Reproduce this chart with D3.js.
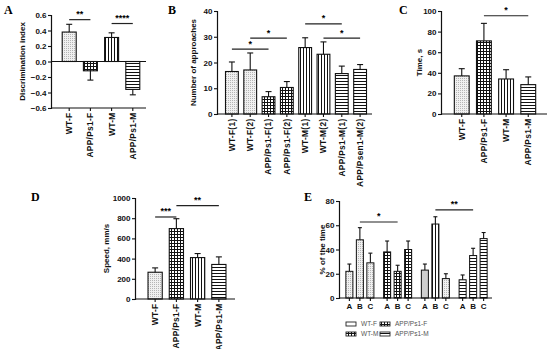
<!DOCTYPE html>
<html>
<head>
<meta charset="utf-8">
<script src="https://cdn.jsdelivr.net/npm/d3@7"></script>
<style>
  body { margin: 0; background: #fff; }
  svg { font-family: "Liberation Sans", Arial, sans-serif; }
  .tick text { font-size: 8px; font-weight: bold; fill: #111; }
  .tick line { stroke: #111; stroke-width: 1.1; }
  .xrot .tick text { font-size: 8.4px; letter-spacing: 0.3px; }
  .ylab { font-size: 8px; font-weight: bold; fill: #111; }
  .letter { font-family: "Liberation Serif", "Times New Roman", serif; font-weight: bold; font-size: 12px; }
  .star { font-size: 9px; font-weight: bold; }
  .legend text { font-size: 6.5px; fill: #555; }
</style>
</head>
<body>
<svg id="fig" width="550" height="349"></svg>
<script>
// ---- data ----
// A: discrimination index
const aCats = ["WT-F", "APP/Ps1-F", "WT-M", "APP/Ps1-M"];
const aMean = [0.38, -0.12, 0.31, -0.36];
const aErr = [0.48, -0.24, 0.37, -0.43];
const aTicks = [-0.6, -0.4, -0.2, 0, 0.2, 0.4, 0.6];
const aSig = [["WT-F", "APP/Ps1-F", 0.54, "**"], ["WT-M", "APP/Ps1-M", 0.49, "****"]];

// B: number of approaches
const bCats = ["WT-F(1)", "WT-F(2)", "APP/Ps1-F(1)", "APP/Ps1-F(2)", "WT-M(1)", "WT-M(2)", "APP/Ps1-M(1)", "APP/Psen1-M(2)"];
const bMean = [16.5, 17.1, 6.7, 10.3, 25.8, 23.2, 15.7, 17.3];
const bErr = [20.2, 23.7, 8.7, 12.6, 29.6, 28.0, 18.6, 19.2];
const bTicks = [0, 10, 20, 30, 40];
const bSig = [["WT-F(1)", "APP/Ps1-F(1)", 25.2, "*"], ["WT-F(2)", "APP/Ps1-F(2)", 29.5, "*"],
              ["WT-M(1)", "APP/Ps1-M(1)", 35, "*"], ["WT-M(2)", "APP/Psen1-M(2)", 29.5, "*"]];

// C: time, s
const cCats = ["WT-F", "APP/Ps1-F", "WT-M", "APP/Ps1-M"];
const cMean = [37, 71, 34, 28.5];
const cErr = [44, 88, 43, 36];
const cTicks = [0, 20, 40, 60, 80, 100];
const cSig = [["APP/Ps1-F", "APP/Ps1-M", 95.4, "*"]];

// D: speed, mm/s
const dCats = ["WT-F", "APP/Ps1-F", "WT-M", "APP/Ps1-M"];
const dMean = [265, 697, 410, 342];
const dErr = [308, 795, 450, 417];
const dTicks = [0, 200, 400, 600, 800, 1000];
const dSig = [["WT-F", "APP/Ps1-F", 812, "***"], ["APP/Ps1-F", "APP/Ps1-M", 924, "**"]];

// E: % of the time in zones A, B, C
const eGroups = ["WT-F", "APP/Ps1-F", "WT-M", "APP/Ps1-M"];
const eZones = ["A", "B", "C"];
const eMean = [[22, 48, 29], [38, 22, 40], [23, 61, 16], [15, 35, 49]];
const eErr = [[28, 58, 37], [47, 27, 47], [28, 67, 20], [19, 41, 54]];
const eTicks = [0, 20, 40, 60, 80];
const eSig = [[0, "B", 1, "B", 62.7, "*"], [2, "B", 3, "B", 72.6, "**"]];
const eLegend = ["WT-F", "APP/Ps1-F", "WT-M", "APP/Ps1-M"];

// ---- drawing ----
const svg = d3.select("#fig");
const defs = svg.append("defs");

function pattern(id, w, h, draw) {
  const p = defs.append("pattern").attr("id", id)
    .attr("patternUnits", "userSpaceOnUse").attr("width", w).attr("height", h);
  draw(p);
}
pattern("dots", 2, 2, p => {
  p.append("rect").attr("width", 2).attr("height", 2).attr("fill", "#f0f0f0");
  p.append("rect").attr("width", 1).attr("height", 1).attr("fill", "#b5b5b5");
});
pattern("grid", 3, 3, p => {
  p.append("rect").attr("width", 3).attr("height", 3).attr("fill", "#111");
  p.append("rect").attr("x", 1).attr("y", 1).attr("width", 2).attr("height", 2).attr("fill", "#fff");
});
pattern("vstripe", 3, 3, p => {
  p.append("rect").attr("width", 3).attr("height", 3).attr("fill", "#fff");
  p.append("rect").attr("width", 1).attr("height", 3).attr("fill", "#111");
});
pattern("hstripe", 3, 3, p => {
  p.append("rect").attr("width", 3).attr("height", 3).attr("fill", "#fff");
  p.append("rect").attr("width", 3).attr("height", 1).attr("fill", "#111");
});

function fillFor(cat) {
  if (cat.startsWith("WT-F")) return "url(#dots)";
  if (cat.startsWith("WT-M")) return "url(#vstripe)";
  if (cat.includes("-F")) return "url(#grid)";
  return "url(#hstripe)";
}

function yAxis(g, y, axisX, ticks, fmt) {
  g.append("g").attr("transform", `translate(${axisX},0)`)
    .call(d3.axisLeft(y).tickValues(ticks).tickSize(3).tickPadding(1.5).tickFormat(fmt))
    .call(a => a.select(".domain").attr("stroke", "#111").attr("stroke-width", 1.2));
}

function yTitle(g, text, x, y) {
  g.append("text").attr("class", "ylab")
    .attr("transform", `translate(${x},${y}) rotate(-90)`)
    .attr("text-anchor", "middle").attr("dominant-baseline", "middle").text(text);
}

function sigLine(g, xa, xb, yv, label) {
  g.append("line").attr("x1", xa).attr("x2", xb).attr("y1", yv).attr("y2", yv)
    .attr("stroke", "#222").attr("stroke-width", 1.2);
  g.append("text").attr("class", "star").attr("x", (xa + xb) / 2).attr("y", yv - 2.5)
    .attr("text-anchor", "middle").text(label);
}

function errBars(g, xs, tops, ends, capW) {
  xs.forEach((cx, i) => {
    g.append("line").attr("x1", cx).attr("x2", cx).attr("y1", tops[i]).attr("y2", ends[i])
      .attr("stroke", "#111").attr("stroke-width", 1.1);
    g.append("line").attr("x1", cx - capW / 2).attr("x2", cx + capW / 2)
      .attr("y1", ends[i]).attr("y2", ends[i]).attr("stroke", "#111").attr("stroke-width", 1.1);
  });
}

function barPanel(o) {
  const g = svg.append("g");
  const x = d3.scaleBand().domain(o.cats).range(o.band).padding(o.pad);
  const y = d3.scaleLinear().domain(o.domain).range([o.yBot, o.yTop]);
  const base = y(Math.max(o.domain[0], 0));

  g.selectAll("rect.bar").data(o.cats).join("rect").attr("class", "bar")
    .attr("x", d => x(d))
    .attr("width", x.bandwidth())
    .attr("y", (d, i) => Math.min(y(o.means[i]), base))
    .attr("height", (d, i) => Math.abs(y(o.means[i]) - base))
    .attr("fill", d => fillFor(d))
    .attr("stroke", "#111").attr("stroke-width", 1.1);

  errBars(g, o.cats.map(d => x(d) + x.bandwidth() / 2),
    o.means.map(v => y(v)), o.errs.map(v => y(v)), 6);

  // zero line (panel A) and bottom axis
  if (o.domain[0] < 0) {
    g.append("line").attr("x1", o.axisX).attr("x2", o.xEnd).attr("y1", base).attr("y2", base)
      .attr("stroke", "#111").attr("stroke-width", 1.2);
  }
  const xa = g.append("g").attr("class", "xrot").attr("transform", `translate(0,${o.yBot})`)
    .call(d3.axisBottom(x).tickSize(3).tickSizeOuter(0));
  xa.select(".domain").remove();
  xa.append("line").attr("x1", o.axisX).attr("x2", o.xEnd).attr("stroke", "#111").attr("stroke-width", 1.2);
  xa.selectAll(".tick text")
    .attr("transform", "rotate(-90)")
    .attr("text-anchor", "end").attr("x", -4.5).attr("y", 0).attr("dy", "0.35em");

  yAxis(g, y, o.axisX, o.ticks, o.fmt);
  yTitle(g, o.title, o.titleX, (o.yTop + o.yBot) / 2);

  o.sig.forEach(([a, b, v, t]) => {
    sigLine(g, x(a) + x.bandwidth() / 2, x(b) + x.bandwidth() / 2, y(v), t);
  });
  g.append("text").attr("class", "letter").attr("x", o.letterXY[0]).attr("y", o.letterXY[1]).text(o.letter);
}

barPanel({ cats: aCats, means: aMean, errs: aErr, band: [55, 147], pad: 0.34,
  domain: [-0.6, 0.6], yTop: 15, yBot: 108, axisX: 51, xEnd: 146, ticks: aTicks,
  fmt: d3.format(".1f"), title: "Discrimination index", titleX: 23, sig: aSig,
  letter: "A", letterXY: [4, 14] });

barPanel({ cats: bCats, means: bMean, errs: bErr, band: [220, 372], pad: 0.3,
  domain: [0, 40], yTop: 11, yBot: 114, axisX: 217, xEnd: 372, ticks: bTicks,
  fmt: d3.format("d"), title: "Number of approaches", titleX: 194, sig: bSig,
  letter: "B", letterXY: [168, 14] });

barPanel({ cats: cCats, means: cMean, errs: cErr, band: [447, 543], pad: 0.33,
  domain: [0, 100], yTop: 11, yBot: 114, axisX: 441, xEnd: 547, ticks: cTicks,
  fmt: d3.format("d"), title: "Time, s", titleX: 420, sig: cSig,
  letter: "C", letterXY: [399, 14] });

barPanel({ cats: dCats, means: dMean, errs: dErr, band: [141, 233], pad: 0.33,
  domain: [0, 1000], yTop: 198, yBot: 299, axisX: 135, xEnd: 235, ticks: dTicks,
  fmt: d3.format("d"), title: "Speed, mm/s", titleX: 107, sig: dSig,
  letter: "D", letterXY: [31, 201] });

// ---- panel E: grouped bars ----
(function () {
  const g = svg.append("g");
  const axisX = 339, xEnd = 492, yTop = 201, yBot = 298;
  const outer = d3.scaleBand().domain(eGroups).range([341, 492]);
  const innerW = 31.5;
  const inner = d3.scaleBand().domain(eZones).range([0, innerW]).paddingInner(0.33).paddingOuter(0.165);
  const y = d3.scaleLinear().domain([0, 80]).range([yBot, yTop]);
  const xOf = (gi, z) => outer(eGroups[gi]) + (outer.bandwidth() - innerW) / 2 + inner(z);
  const cOf = (gi, z) => xOf(gi, z) + inner.bandwidth() / 2;

  const zoneFill = (gi, zi) => {
    if (gi === 2 && zi === 0) return "#cfcfcf";
    if (gi === 2 && zi === 2) return "url(#dots)";
    return fillFor(eGroups[gi]);
  };

  const cells = [];
  eMean.forEach((row, gi) => row.forEach((v, zi) => cells.push({ gi, zi, v, e: eErr[gi][zi] })));

  g.selectAll("rect.bar").data(cells).join("rect").attr("class", "bar")
    .attr("x", d => xOf(d.gi, eZones[d.zi]))
    .attr("width", inner.bandwidth())
    .attr("y", d => y(d.v))
    .attr("height", d => yBot - y(d.v))
    .attr("fill", d => zoneFill(d.gi, d.zi))
    .attr("stroke", "#111").attr("stroke-width", 1);

  errBars(g, cells.map(d => cOf(d.gi, eZones[d.zi])), cells.map(d => y(d.v)), cells.map(d => y(d.e)), 4);

  // x axis with A/B/C ticks
  g.append("line").attr("x1", axisX).attr("x2", xEnd).attr("y1", yBot).attr("y2", yBot)
    .attr("stroke", "#111").attr("stroke-width", 1.2);
  const ticks = g.append("g").selectAll("g").data(cells).join("g").attr("class", "tick")
    .attr("transform", d => `translate(${cOf(d.gi, eZones[d.zi])},${yBot})`);
  ticks.append("line").attr("y2", 3);
  ticks.append("text").attr("y", 11).attr("text-anchor", "middle").text(d => eZones[d.zi]);

  yAxis(g, y, axisX, eTicks, d3.format("d"));
  yTitle(g, "% of the time", 323, (yTop + yBot) / 2);

  eSig.forEach(([ga, za, gb, zb, v, t]) => sigLine(g, cOf(ga, za), cOf(gb, zb), y(v), t));
  g.append("text").attr("class", "letter").attr("x", 304).attr("y", 201).text("E");

  // legend
  const leg = g.append("g").attr("class", "legend");
  const swatch = ["#fff", "url(#grid)", "url(#grid)", "url(#hstripe)"];
  eLegend.forEach((name, i) => {
    const lx = 346 + (i % 2) * 34, ly = 324 + Math.floor(i / 2) * 10;
    leg.append("rect").attr("x", lx).attr("y", ly - 2).attr("width", 10).attr("height", 4)
      .attr("fill", swatch[i]).attr("stroke", "#222").attr("stroke-width", 0.9);
    leg.append("text").attr("x", lx + 15).attr("y", ly).attr("dominant-baseline", "middle").text(name);
  });
})();
</script>
</body>
</html>
